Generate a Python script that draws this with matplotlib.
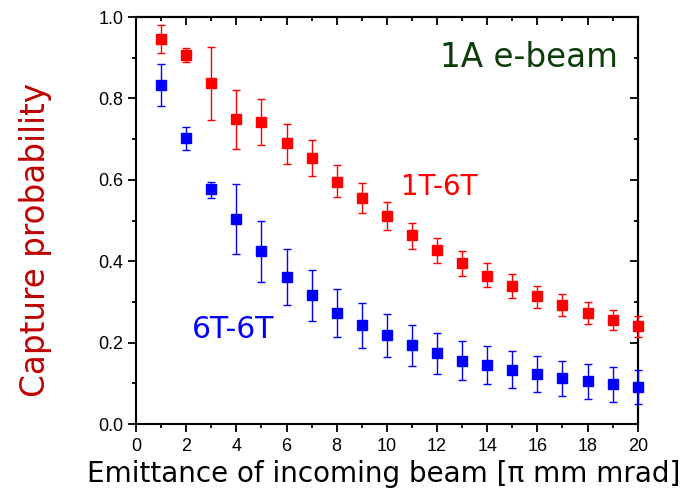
import matplotlib
matplotlib.use("Agg")
import matplotlib.pyplot as plt
import numpy as np
from matplotlib.ticker import MultipleLocator, FormatStrFormatter

emittance = np.arange(1, 21)

red_y = [0.946, 0.907, 0.838, 0.749, 0.743, 0.690, 0.653, 0.596, 0.556, 0.510,
         0.464, 0.428, 0.395, 0.365, 0.340, 0.314, 0.293, 0.273, 0.256, 0.240]
red_top = [0.981, 0.925, 0.926, 0.820, 0.799, 0.738, 0.697, 0.636, 0.593, 0.545,
           0.495, 0.458, 0.424, 0.395, 0.368, 0.340, 0.320, 0.299, 0.281, 0.265]
red_bot = [0.911, 0.889, 0.748, 0.677, 0.685, 0.640, 0.609, 0.557, 0.519, 0.476,
           0.431, 0.396, 0.364, 0.336, 0.310, 0.286, 0.266, 0.246, 0.230, 0.215]

blue_y = [0.833, 0.702, 0.577, 0.503, 0.425, 0.361, 0.316, 0.274, 0.243, 0.218,
          0.193, 0.174, 0.156, 0.144, 0.133, 0.123, 0.112, 0.105, 0.098, 0.091]
blue_top = [0.885, 0.730, 0.596, 0.590, 0.500, 0.430, 0.378, 0.332, 0.298, 0.270,
            0.244, 0.223, 0.204, 0.191, 0.179, 0.167, 0.156, 0.147, 0.139, 0.132]
blue_bot = [0.781, 0.673, 0.555, 0.417, 0.350, 0.293, 0.254, 0.215, 0.188, 0.165,
            0.143, 0.124, 0.107, 0.098, 0.088, 0.078, 0.069, 0.061, 0.055, 0.048]

fig = plt.figure(figsize=(6.85, 5.03), dpi=100)
ax = fig.add_axes([0.1985, 0.157, 0.7325, 0.809])

def draw(y, top, bot, color):
    y = np.array(y); top = np.array(top); bot = np.array(bot)
    ax.errorbar(emittance, y, yerr=[y - bot, top - y], fmt='s', color=color,
                markersize=6.5, ecolor=color, elinewidth=1.0, capsize=3.2,
                capthick=1.0, zorder=3, clip_on=False)

draw(red_y, red_top, red_bot, '#ff0000')
draw(blue_y, blue_top, blue_bot, '#0000ff')

ax.set_xlim(0, 20)
ax.set_ylim(0, 1.0)
ax.xaxis.set_major_locator(MultipleLocator(2))
ax.xaxis.set_minor_locator(MultipleLocator(1))
ax.yaxis.set_major_locator(MultipleLocator(0.2))
ax.yaxis.set_minor_locator(MultipleLocator(0.1))
ax.yaxis.set_major_formatter(FormatStrFormatter('%.1f'))
ax.tick_params(which='both', direction='out', width=1.3)
ax.tick_params(which='major', length=6, labelsize=13)
ax.tick_params(which='minor', length=3)
ax.tick_params(axis='x', which='major', pad=4)
ax.tick_params(axis='y', which='major', pad=3)
for lab in ax.get_xticklabels() + ax.get_yticklabels():
    lab.set_family('Liberation Sans')
for s in ax.spines.values():
    s.set_linewidth(1.5)

top_ax = ax.secondary_xaxis('top')
top_ax.xaxis.set_major_locator(MultipleLocator(2))
top_ax.xaxis.set_minor_locator(MultipleLocator(1))
top_ax.tick_params(which='both', direction='in', width=1.3, labeltop=False)
top_ax.tick_params(which='major', length=6)
top_ax.tick_params(which='minor', length=3)
top_ax.spines['top'].set_linewidth(1.5)

right_ax = ax.secondary_yaxis('right')
right_ax.yaxis.set_major_locator(MultipleLocator(0.2))
right_ax.yaxis.set_minor_locator(MultipleLocator(0.1))
right_ax.tick_params(which='both', direction='in', width=1.3, labelright=False)
right_ax.tick_params(which='major', length=6)
right_ax.tick_params(which='minor', length=3)
right_ax.spines['right'].set_linewidth(1.5)

ax.set_xlabel('Emittance of incoming beam [π mm mrad]', fontsize=20,
              family='DejaVu Sans', va='top')
ax.xaxis.set_label_coords(0.494, -0.088)
ax.set_ylabel('Capture probability', fontsize=23.5, color='#c00000',
              family='DejaVu Sans')
ax.yaxis.set_label_coords(-0.167, 0.452)

ax.text(19.2, 0.877, '1A e-beam', color='#0b3d0b', fontsize=23.5,
        ha='right', va='baseline')
ax.text(10.58, 0.563, '1T-6T', color='#ff0000', fontsize=20,
        ha='left', va='baseline')
ax.text(2.22, 0.211, '6T-6T', color='#0000ff', fontsize=21.5,
        ha='left', va='baseline')

fig.savefig('out.png', dpi=100)
